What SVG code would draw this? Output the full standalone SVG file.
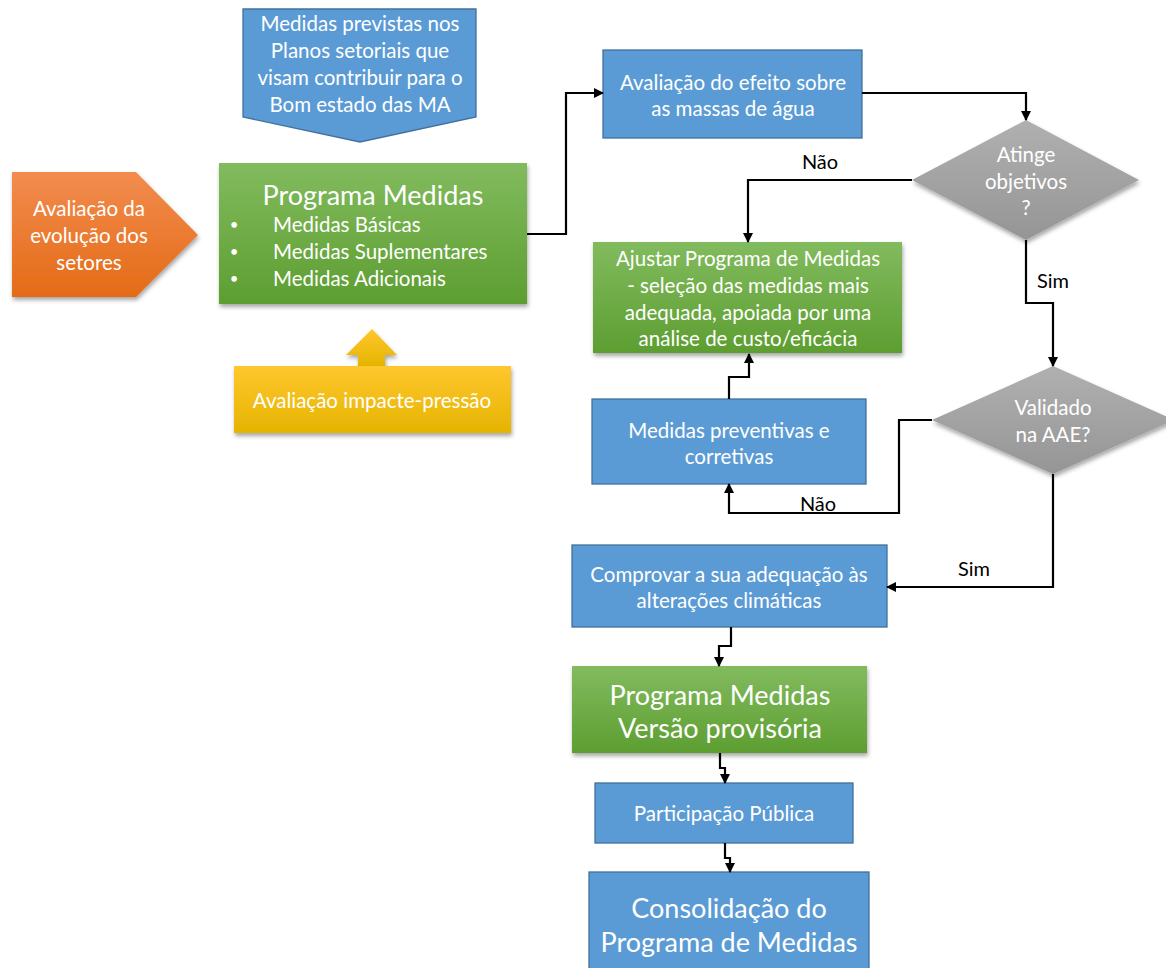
<svg xmlns="http://www.w3.org/2000/svg" width="1166" height="968" viewBox="0 0 1166 968">
<defs>
<linearGradient id="gGreen" x1="0" y1="0" x2="0" y2="1"><stop offset="0" stop-color="#82BB5E"/><stop offset="1" stop-color="#5D9E31"/></linearGradient>
<linearGradient id="gOrange" x1="0" y1="0" x2="0" y2="1"><stop offset="0" stop-color="#F28C4F"/><stop offset="1" stop-color="#E46B16"/></linearGradient>
<linearGradient id="gYellow" x1="0" y1="0" x2="0" y2="1"><stop offset="0" stop-color="#FFC72E"/><stop offset="1" stop-color="#E5B400"/></linearGradient>
<linearGradient id="gGrey" x1="0" y1="0" x2="0" y2="1"><stop offset="0" stop-color="#B0B0B0"/><stop offset="1" stop-color="#959595"/></linearGradient>
<filter id="sh" x="-10%" y="-10%" width="125%" height="130%"><feDropShadow dx="1" dy="3" stdDeviation="2" flood-color="#000" flood-opacity="0.35"/></filter>
<marker id="ah" viewBox="0 0 10 10" refX="9" refY="5" markerWidth="10" markerHeight="10" markerUnits="userSpaceOnUse" orient="auto"><path d="M0,0 L10,5 L0,10 z" fill="#000"/></marker>
<style>
.t{font-family:Lato,"Open Sans","DejaVu Sans",sans-serif;fill:#fff;text-anchor:middle;dominant-baseline:central;font-size:20.5px}
.big{font-size:27px}
.s{text-anchor:start}
.b{font-size:15px}
.l{font-family:Lato,"Open Sans","DejaVu Sans",sans-serif;fill:#000;text-anchor:middle;dominant-baseline:central;font-size:20px}
.blue{fill:#5B9BD5;stroke:#41719C;stroke-width:1.3}
.c{fill:none;stroke:#000;stroke-width:2.2;marker-end:url(#ah)}
</style>
</defs>

<g id="medidas-previstas">
<polygon class="blue" points="243,9 476,9 476,117 360,142 243,117"/>
<text class="t" x="360" y="23">Medidas previstas nos</text>
<text class="t" x="360" y="50">Planos setoriais que</text>
<text class="t" x="360" y="77">visam contribuir para o</text>
<text class="t" x="360" y="104">Bom estado das MA</text>
</g>

<g id="avaliacao-evolucao">
<polygon points="12,172 136,172 198,235 136,297 12,297" fill="url(#gOrange)" filter="url(#sh)"/>
<text class="t" x="89" y="208">Avaliação da</text>
<text class="t" x="89" y="235">evolução dos</text>
<text class="t" x="89" y="262">setores</text>
</g>

<g id="programa-medidas">
<rect x="219" y="163" width="308" height="141" fill="url(#gGreen)" filter="url(#sh)"/>
<text class="t big" x="373" y="194">Programa Medidas</text>
<text class="t b" x="234" y="224">•</text>
<text class="t b" x="234" y="251">•</text>
<text class="t b" x="234" y="278">•</text>
<text class="t s" x="273" y="224">Medidas Básicas</text>
<text class="t s" x="273" y="251">Medidas Suplementares</text>
<text class="t s" x="273" y="278">Medidas Adicionais</text>
</g>

<g id="avaliacao-impacte">
<polygon points="372,329 397,355 385,355 385,366 358,366 358,355 346,355" fill="url(#gYellow)" filter="url(#sh)"/>
<rect x="234" y="366" width="277" height="67" fill="url(#gYellow)" filter="url(#sh)"/>
<text class="t" x="372" y="400">Avaliação impacte-pressão</text>
</g>

<g id="avaliacao-efeito">
<rect class="blue" x="603" y="50" width="259" height="88"/>
<text class="t" x="733" y="82">Avaliação do efeito sobre</text>
<text class="t" x="733" y="108">as massas de água</text>
</g>

<g id="atinge-objetivos">
<polygon points="1026,120 1139,180 1026,240 912,180" fill="url(#gGrey)" filter="url(#sh)"/>
<text class="t" x="1026" y="154">Atinge</text>
<text class="t" x="1026" y="181">objetivos</text>
<text class="t" x="1026" y="207">?</text>
</g>

<g id="ajustar-programa">
<rect x="593" y="242" width="309" height="111" fill="url(#gGreen)" filter="url(#sh)"/>
<text class="t" x="748" y="258">Ajustar Programa de Medidas</text>
<text class="t" x="748" y="285">- seleção das medidas mais</text>
<text class="t" x="748" y="312">adequada, apoiada por uma</text>
<text class="t" x="748" y="338">análise de custo/eficácia</text>
</g>

<g id="medidas-preventivas">
<rect class="blue" x="592" y="399" width="274" height="85"/>
<text class="t" x="729" y="430">Medidas preventivas e</text>
<text class="t" x="729" y="456">corretivas</text>
</g>

<g id="validado-aae">
<polygon points="1053,366 1174,420 1053,474 932,420" fill="url(#gGrey)" filter="url(#sh)"/>
<text class="t" x="1053" y="407">Validado</text>
<text class="t" x="1053" y="434">na AAE?</text>
</g>

<g id="comprovar">
<rect class="blue" x="572" y="545" width="315" height="82"/>
<text class="t" x="729" y="574">Comprovar a sua adequação às</text>
<text class="t" x="729" y="600">alterações climáticas</text>
</g>

<g id="programa-provisoria">
<rect x="572" y="666" width="295" height="87" fill="url(#gGreen)" filter="url(#sh)"/>
<text class="t big" x="720" y="694">Programa Medidas</text>
<text class="t big" x="720" y="727">Versão provisória</text>
</g>

<g id="participacao">
<rect class="blue" x="595" y="783" width="258" height="60"/>
<text class="t" x="724" y="813">Participação Pública</text>
</g>

<g id="consolidacao">
<rect class="blue" x="589" y="872" width="280" height="100"/>
<text class="t big" x="729" y="907">Consolidação do</text>
<text class="t big" x="729" y="941">Programa de Medidas</text>
</g>

<g id="connectors">
<path class="c" d="M527,234 H566 V93 H603"/>
<path class="c" d="M862,93 H1026 V120"/>
<path class="c" d="M912,180 H748 V242"/>
<path class="c" d="M1026,240 V303 H1053 V366"/>
<path class="c" d="M729,399 V377 H749 V354"/>
<path class="c" d="M932,420 H899 V513 H729 V484"/>
<path class="c" d="M1053,474 V587 H887"/>
<path class="c" d="M731,627 V646 H719 V666"/>
<path class="c" d="M720,753 V768 H725 V783"/>
<path class="c" d="M725,843 V858 H730 V872"/>
<text class="l" x="820" y="161">Não</text>
<text class="l" x="1053" y="280">Sim</text>
<text class="l" x="818" y="503">Não</text>
<text class="l" x="974" y="568">Sim</text>
</g>
</svg>
